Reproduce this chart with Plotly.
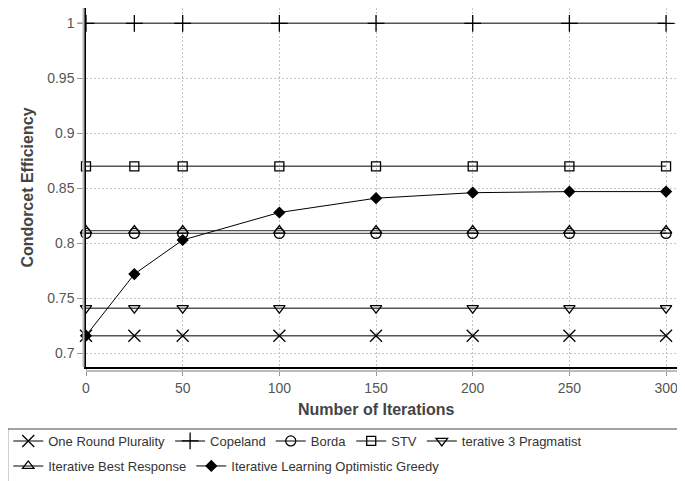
import plotly.graph_objects as go

iterations = [0, 25, 50, 100, 150, 200, 250, 300]

one_round_plurality = [0.716] * 8
copeland = [1.0] * 8
borda = [0.809] * 8
stv = [0.870] * 8
iterative_3_pragmatist = [0.741] * 8
iterative_best_response = [0.8115] * 8
iterative_learning_greedy = [0.716, 0.772, 0.803, 0.828, 0.841, 0.846, 0.847, 0.847]

series_names = ["One Round Plurality", "Copeland", "Borda", "STV", "terative 3 Pragmatist",
                "Iterative Best Response", "Iterative Learning Optimistic Greedy"]
y_ticks = [0.7, 0.75, 0.8, 0.85, 0.9, 0.95, 1.0]
y_tick_text = ["0.7", "0.75", "0.8", "0.85", "0.9", "0.95", "1"]
x_ticks = [0, 50, 100, 150, 200, 250, 300]

# page offset (browser body margin)
OFF = 8
PAGE_W, PAGE_H = 685, 481
W, H = PAGE_W - OFF, PAGE_H - OFF

# plot area in page pixels
PL, PT, PB, PR = 84, 8, 367, 685
L, T = PL - OFF, PT - OFF
B = H - (PB - OFF)
R = W - (PR - OFF)
PW, PH = W - L - R, H - T - B

def px_x(p):
    return (p - OFF - L) / PW

def px_y(p):
    return (H - B - (p - OFF)) / PH

FONT = "Liberation Sans, Arial, sans-serif"
GRAYLINE = "#555555"
GRID = "#c4c4c4"
GRIDDASH = "2px,2px"

fig = go.Figure()

specs = [
    (one_round_plurality, "x-thin-open", 12, GRAYLINE, 1.4, "legend"),
    (copeland, "cross-thin-open", 12, GRAYLINE, 1.4, "legend"),
    (borda, "circle-open", 10, GRAYLINE, 1.4, "legend"),
    (stv, "square-open", 9, GRAYLINE, 1.4, "legend"),
    (iterative_3_pragmatist, "triangle-down-open", 10, GRAYLINE, 1.4, "legend"),
    (iterative_best_response, "triangle-up-open", 10, GRAYLINE, 1.4, "legend2"),
    (iterative_learning_greedy, "diamond", 8, "black", 1.0, "legend2"),
]

for name, (vals, sym, size, lc, lw, leg) in zip(series_names, specs):
    fig.add_trace(go.Scatter(
        x=iterations, y=vals, name=name, mode="lines+markers",
        line=dict(color=lc, width=lw),
        marker=dict(symbol=sym, size=size, color="black",
                    line=dict(color="black", width=1.3)),
        legend=leg, cliponaxis=False,
    ))

x_ppu = 1.94
x_max = 300 + (PR - (PL + 300 * x_ppu)) / x_ppu
y_ppu = 1100.0
y_one_px = 23.3
y_top = 1 + (y_one_px - PT) / y_ppu
y_bot = 1 - (PB - y_one_px) / y_ppu

shapes = [
    dict(type="line", xref="paper", yref="paper", x0=px_x(PL), x1=px_x(PAGE_W + 5),
         y0=px_y(7), y1=px_y(7), line=dict(color="#999999", width=2)),
    dict(type="line", xref="paper", yref="paper", x0=px_x(81.5), x1=px_x(81.5),
         y0=px_y(7), y1=px_y(367), line=dict(color="#bbbbbb", width=2)),
    dict(type="line", xref="paper", yref="paper", x0=px_x(84), x1=px_x(PAGE_W + 5),
         y0=px_y(371), y1=px_y(371), line=dict(color="#bbbbbb", width=2)),
    dict(type="rect", xref="paper", yref="paper", x0=px_x(5.5), x1=px_x(PAGE_W + 20),
         y0=px_y(429), y1=px_y(PAGE_H + 20), line=dict(color="#444444", width=1),
         fillcolor="rgba(0,0,0,0)"),
]

fig.update_layout(
    width=W, height=H,
    margin=dict(l=L, r=R, t=T, b=B),
    paper_bgcolor="white", plot_bgcolor="white",
    font=dict(family=FONT, color="#444444"),
    shapes=shapes,
    xaxis=dict(range=[0, x_max], tickvals=x_ticks, showgrid=True,
               gridcolor=GRID, griddash=GRIDDASH, gridwidth=1,
               showline=True, linecolor="black", linewidth=1.5,
               ticks="outside", ticklen=7, tickcolor="#999999",
               tickfont=dict(size=14, color="#555555"), zeroline=False),
    yaxis=dict(range=[y_bot, y_top], tickvals=y_ticks, ticktext=y_tick_text,
               showgrid=True, gridcolor=GRID, griddash=GRIDDASH, gridwidth=1,
               showline=True, linecolor="black", linewidth=1.5,
               ticks="outside", ticklen=7, tickcolor="#999999",
               tickfont=dict(size=14, color="#555555"), zeroline=False,
               title=dict(text="<b>Condorcet Efficiency</b>", font=dict(size=16, color="#444444"),
                          standoff=10)),
    annotations=[dict(text="<b>Number of Iterations</b>", x=150, xref="x",
                      y=px_y(409), yref="paper", showarrow=False,
                      font=dict(size=16, color="#444444"), xanchor="center", yanchor="middle")],
    legend=dict(orientation="h", x=px_x(6), xanchor="left", y=px_y(441), yanchor="middle",
                font=dict(size=13, color="#333333"), itemwidth=30, bgcolor="rgba(0,0,0,0)"),
    legend2=dict(orientation="h", x=px_x(6), xanchor="left", y=px_y(466), yanchor="middle",
                 font=dict(size=13, color="#333333"), itemwidth=30, bgcolor="rgba(0,0,0,0)"),
    showlegend=True,
)

fig.write_html("out.html")
